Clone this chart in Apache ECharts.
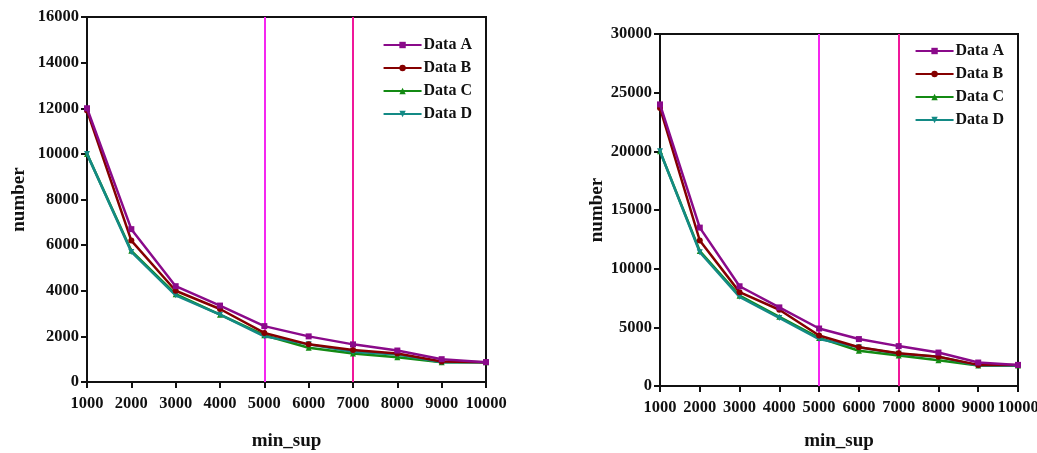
<!DOCTYPE html>
<html>
<head>
<meta charset="utf-8">
<script src="https://cdn.jsdelivr.net/npm/echarts@6/dist/echarts.min.js"></script>
<style>html,body{margin:0;padding:0;background:#fff;}#c{width:1037px;height:453px;}</style>
</head>
<body>
<div id="c"></div>
<script>
var minSup = [1000, 2000, 3000, 4000, 5000, 6000, 7000, 8000, 9000, 10000];
var seriesNames = ['Data A', 'Data B', 'Data C', 'Data D'];
// left chart
var leftA = [12000, 6700, 4200, 3350, 2450, 2000, 1650, 1380, 1000, 870];
var leftB = [11900, 6200, 4000, 3200, 2150, 1650, 1400, 1250, 900, 870];
var leftC = [10000, 5750, 3850, 2950, 2050, 1500, 1250, 1080, 870, 870];
var leftD = [10000, 5700, 3800, 2950, 2000, 1650, 1330, 1200, 870, 870];
// right chart
var rightA = [24000, 13500, 8500, 6700, 4900, 4000, 3400, 2850, 2000, 1800];
var rightB = [23700, 12400, 8000, 6500, 4300, 3300, 2800, 2500, 1800, 1800];
var rightC = [20000, 11500, 7700, 5900, 4100, 3000, 2600, 2200, 1750, 1750];
var rightD = [20000, 11400, 7600, 5800, 4000, 3300, 2750, 2500, 1750, 1750];
var markX = [5000, 7000];

var colors = ['#8a0a8a', '#850000', '#138a13', '#138a85'];
var symbols = ['rect', 'circle', 'triangle', 'triangle'];
var rotates = [0, 0, 0, 180];
var zs = [6, 5, 3, 4];
var markColors = ['#f526f0', '#f0189a'];
var font = 'Liberation Serif';

function pairs(ys) { return minSup.map(function (x, i) { return [x, ys[i]]; }); }
function plain(v) { return String(v); }

function makeSeries(sets, gi) {
  return sets.map(function (ys, i) {
    var s = {
      name: seriesNames[i], type: 'line', xAxisIndex: gi, yAxisIndex: gi,
      data: pairs(ys), symbol: symbols[i], symbolRotate: rotates[i], symbolSize: 6,
      itemStyle: { color: colors[i] }, lineStyle: { width: 2.5, color: colors[i] },
      z: zs[i]
    };
    if (i === 0) {
      s.markLine = {
        silent: true, symbol: 'none', label: { show: false }, z: 2,
        data: markX.map(function (x, k) { return { xAxis: x, lineStyle: { color: markColors[k], width: 2, type: 'solid' } }; })
      };
    }
    return s;
  });
}

function xAxis(gi, gap) {
  return {
    type: 'value', gridIndex: gi, min: 1000, max: 10000, interval: 1000,
    name: 'min_sup', nameLocation: 'middle', nameGap: gap,
    nameTextStyle: { fontFamily: font, fontWeight: 'bold', fontSize: 19, color: '#111' },
    axisLine: { lineStyle: { color: '#111', width: 2 } },
    axisTick: { show: true, inside: false, length: 6, lineStyle: { color: '#111', width: 2 } },
    axisLabel: { fontFamily: font, fontWeight: 'bold', fontSize: 16.5, color: '#111', margin: 13, formatter: plain, showMinLabel: true, showMaxLabel: true, hideOverlap: false },
    splitLine: { show: false }
  };
}
function yAxis(gi, max, interval, gap) {
  return {
    type: 'value', gridIndex: gi, min: 0, max: max, interval: interval,
    name: 'number', nameLocation: 'middle', nameGap: gap, nameRotate: 90,
    nameTextStyle: { fontFamily: font, fontWeight: 'bold', fontSize: 19, color: '#111' },
    axisLine: { show: true, lineStyle: { color: '#111', width: 2 } },
    axisTick: { show: true, inside: false, length: 6, lineStyle: { color: '#111', width: 2 } },
    axisLabel: { fontFamily: font, fontWeight: 'bold', fontSize: 16.5, color: '#111', margin: 8, formatter: plain },
    splitLine: { show: false }
  };
}
function legend(right, top) {
  return {
    orient: 'vertical', right: right, top: top, itemWidth: 38, itemHeight: 8, itemGap: 7,
    data: seriesNames,
    textStyle: { fontFamily: font, fontWeight: 'bold', fontSize: 16, color: '#111', padding: [0, 0, 0, -3] }
  };
}

var chart = echarts.init(document.getElementById('c'));
chart.setOption({
  backgroundColor: '#fff',
  animation: false,
  grid: [
    { left: 87, top: 17, right: 551, bottom: 71, show: true, borderColor: '#111', borderWidth: 2, containLabel: false, outerBoundsMode: 'none' },
    { left: 660, top: 34, right: 19, bottom: 67, show: true, borderColor: '#111', borderWidth: 2, containLabel: false, outerBoundsMode: 'none' }
  ],
  legend: [
    Object.assign(legend(560, 32), { id: 'l0' }),
    Object.assign(legend(28, 38), { id: 'l1' })
  ],
  xAxis: [xAxis(0, 50), xAxis(1, 46)],
  yAxis: [yAxis(0, 16000, 2000, 58), yAxis(1, 30000, 5000, 52)],
  series: makeSeries([leftA, leftB, leftC, leftD], 0).concat(makeSeries([rightA, rightB, rightC, rightD], 1))
});
</script>
</body>
</html>
